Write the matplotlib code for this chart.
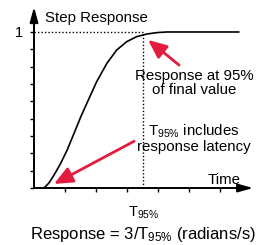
import matplotlib.pyplot as plt
import numpy as np

plt.rcParams['font.family'] = ['Liberation Sans', 'DejaVu Sans']
plt.rcParams['mathtext.fontset'] = 'custom'
plt.rcParams['mathtext.rm'] = 'Liberation Sans'
plt.rcParams['mathtext.it'] = 'Liberation Sans'

# step response curve (time units = x tick spacing)
t = [0.32, 0.48, 0.645, 0.86, 1.07, 1.29, 1.51, 1.72, 2.02, 2.35, 2.67,
     2.99, 3.31, 3.64, 3.96, 4.28, 6.61]
resp = [0.0, 0.032, 0.083, 0.158, 0.244, 0.35, 0.457, 0.55, 0.681, 0.799, 0.885,
        0.938, 0.97, 0.987, 0.996, 1.0, 1.0]
t95 = 3.52
xticks = [1, 2, 3, 4, 5, 6]
yticks = np.linspace(0, 1, 10)
red = '#e31b3c'

fig = plt.figure(figsize=(2.72, 2.45), dpi=100)
ax = fig.add_axes([0, 0, 1, 1])
ax.set_xlim(-1.097, 7.677)
ax.set_ylim(-0.365, 1.205)

for s in ['top', 'right']:
    ax.spines[s].set_visible(False)
ax.spines['left'].set_position(('data', 0))
ax.spines['bottom'].set_position(('data', 0))
ax.spines['left'].set_bounds(0, 1.1)
ax.spines['bottom'].set_bounds(0, 6.9)
ax.spines['left'].set_linewidth(1.4)
ax.spines['bottom'].set_linewidth(1.4)

ax.set_yticks(yticks)
ax.set_yticklabels([''] * 9 + ['1'], fontsize=10.5)
ax.set_xticks(xticks)
ax.set_xticklabels([])
ax.tick_params(direction='out', length=3.2, width=1.0, pad=5)

# axis arrows
ax.annotate('', xy=(0, 1.16), xytext=(0, 1.05),
            arrowprops=dict(arrowstyle='-|>,head_length=0.9,head_width=0.25',
                            color='black', lw=1.4, shrinkA=0, shrinkB=0))
ax.annotate('', xy=(7.07, 0), xytext=(6.7, 0),
            arrowprops=dict(arrowstyle='-|>,head_length=0.9,head_width=0.25',
                            color='black', lw=1.4, shrinkA=0, shrinkB=0))

# dotted guide lines
ax.plot([0, t95], [1, 1], color='black', lw=1.0, ls=(0, (1, 1.5)))
ax.plot([t95, t95], [0, 1], color='black', lw=1.0, ls=(0, (1, 1.5)))

ax.plot(t, resp, color='black', lw=1.2, solid_capstyle='round', solid_joinstyle='round')

# red arrows
ax.annotate('', xy=(3.68, 0.949), xytext=(4.68, 0.788),
            arrowprops=dict(arrowstyle='-|>,head_length=0.8,head_width=0.35',
                            color=red, lw=2, mutation_scale=14, shrinkA=0, shrinkB=0))
ax.annotate('', xy=(0.645, 0.026), xytext=(3.23, 0.30),
            arrowprops=dict(arrowstyle='-|>,head_length=0.8,head_width=0.35',
                            color=red, lw=2, mutation_scale=14, shrinkA=0, shrinkB=0))

ax.text(0.355, 1.09, 'Step Response', fontsize=10.8, ha='left', va='center')
ax.text(5.16, 0.67, 'Response at 95%\nof final value', fontsize=10.8,
        ha='center', va='center', linespacing=1.0)
ax.text(5.16, 0.32, 'T$_{95\\%}$ includes\nresponse latency', fontsize=10.8,
        ha='center', va='center', linespacing=1.0)
ax.text(6.65, 0.05, 'Time', fontsize=10.8, ha='right', va='center')
ax.text(t95, -0.16, 'T$_{95\\%}$', fontsize=10.5, ha='center', va='center')
ax.text(3.52, -0.30, 'Response = 3/T$_{95\\%}$ (radians/s)', fontsize=12,
        ha='center', va='center')

fig.savefig('out.png', dpi=100)
